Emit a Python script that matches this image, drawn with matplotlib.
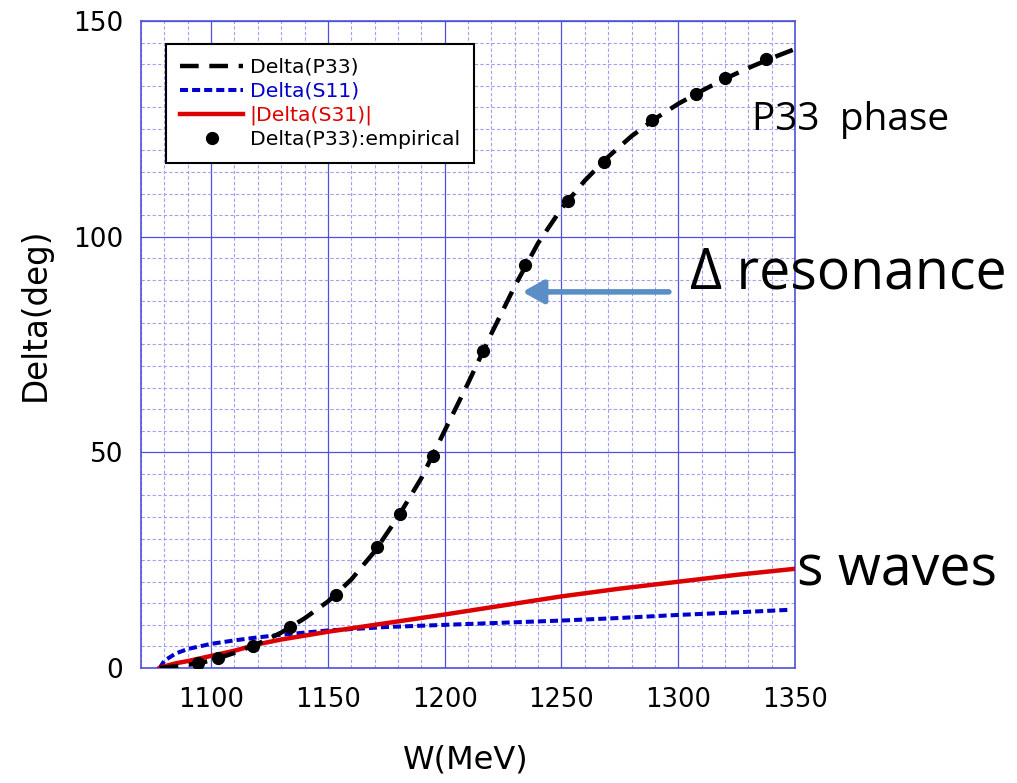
import matplotlib
matplotlib.use("Agg")
import matplotlib.pyplot as plt
from matplotlib.ticker import MultipleLocator

# P33 phase shift curve (deg) vs W (MeV)
w_p33 = [1078, 1090, 1100, 1110, 1120, 1130, 1140, 1150, 1160, 1170, 1180, 1190, 1200,
         1210, 1220, 1230, 1240, 1250, 1260, 1270, 1280, 1290, 1300, 1310, 1320, 1330,
         1340, 1350]
d_p33 = [0, 0.7, 1.7, 3.5, 5.6, 8.2, 11.5, 15.4, 20.5, 27.0, 35.0, 44.0, 55.0,
         66.0, 77.5, 88.5, 98.5, 106.5, 113.0, 118.5, 123.3, 127.3, 130.8, 133.8, 136.6, 139.1,
         141.4, 143.5]

# S11 phase shift
w_s11 = [1078, 1080, 1085, 1090, 1100, 1110, 1120, 1130, 1140, 1150, 1175, 1200, 1225,
         1250, 1275, 1300, 1325, 1348]
d_s11 = [0, 1.7, 3.4, 4.4, 5.6, 6.4, 7.1, 7.7, 8.2, 8.7, 9.5, 10.0, 10.5,
         11.0, 11.6, 12.3, 12.9, 13.5]

# |S31| phase shift
w_s31 = [1078, 1080, 1085, 1090, 1100, 1110, 1120, 1130, 1150, 1175, 1200, 1225, 1250,
         1275, 1300, 1325, 1350]
d_s31 = [0, 0.4, 1.1, 1.6, 2.8, 4.0, 5.5, 6.6, 8.4, 10.4, 12.4, 14.5, 16.6,
         18.4, 20.0, 21.6, 23.0]

# empirical P33 points
w_emp = [1094.6, 1103.1, 1117.9, 1133.9, 1153.6, 1171.0, 1180.7, 1195.0, 1216.6, 1234.3,
         1252.7, 1268.4, 1288.9, 1307.7, 1320.0, 1337.4]
d_emp = [1.1, 2.4, 5.1, 9.4, 17.0, 28.1, 35.6, 49.1, 73.5, 93.4,
         108.3, 117.4, 127.1, 133.0, 136.7, 141.1]

xticks = [1100, 1150, 1200, 1250, 1300, 1350]
yticks = [0, 50, 100, 150]

grid_major = "#5050dd"
grid_minor = "#a0a0f2"

fig = plt.figure(figsize=(10.17, 7.83), dpi=100)
ax = fig.add_axes([141 / 1017, 1 - 668 / 783, 654 / 1017, 647 / 783])

ax.plot(w_p33, d_p33, color="black", lw=3.2, dashes=(4.2, 2.4), label="Delta(P33)", zorder=4)
ax.plot(w_s11, d_s11, color="#0000cc", lw=2.9, dashes=(2.0, 1.0), label="Delta(S11)", zorder=3)
ax.plot(w_s31, d_s31, color="#dd0000", lw=3.2, label="|Delta(S31)|", zorder=3)
ax.plot(w_emp, d_emp, "o", color="black", ms=8.5, label="Delta(P33):empirical", zorder=5)

ax.set_xlim(1070, 1350)
ax.set_ylim(0, 150)
ax.set_xticks(xticks)
ax.set_yticks(yticks)
ax.xaxis.set_minor_locator(MultipleLocator(10))
ax.yaxis.set_minor_locator(MultipleLocator(5))
ax.tick_params(which="both", length=0)
ax.tick_params(axis="x", pad=14, labelsize=18.5)
ax.tick_params(axis="y", pad=13, labelsize=19)

ax.grid(which="major", color=grid_major, lw=0.9, zorder=0)
ax.grid(which="minor", color=grid_minor, lw=0.8, ls=(0, (3, 2)), zorder=0)
ax.set_axisbelow(True)
for s in ax.spines.values():
    s.set_color(grid_major)
    s.set_linewidth(1.2)

ax.set_xlabel("W(MeV)", fontsize=23)
ax.xaxis.set_label_coords(0.497, -0.118)
ax.set_ylabel("Delta(deg)", fontsize=23.5)
ax.yaxis.set_label_coords(-0.137, 0.546)

leg = ax.legend(loc="upper left", bbox_to_anchor=(0.038, 0.965), fontsize=14.7,
                frameon=True, fancybox=False, framealpha=1, edgecolor="black",
                handlelength=3.1, handletextpad=0.3, labelspacing=0.24,
                borderpad=0.7, borderaxespad=0,
                labelcolor=["black", "#0000cc", "#dd0000", "black"])
leg.get_frame().set_linewidth(1.5)

# arrow pointing at the resonance
ax.annotate("", xy=(1233.3, 87.2), xytext=(1296, 87.2),
            arrowprops=dict(arrowstyle="-|>,head_length=0.9,head_width=0.5",
                            color="#5b8ec6", lw=4, mutation_scale=14,
                            shrinkA=0, shrinkB=0),
            annotation_clip=False, zorder=6)

fig.text(752 / 1017, 1 - 130 / 783, "P33  phase", fontsize=28, family="Open Sans",
         va="baseline", ha="left")
fig.text(690 / 1017, 1 - 289 / 783, "\u0394 resonance", fontsize=40, family="Open Sans",
         va="baseline", ha="left")
fig.text(797 / 1017, 1 - 585 / 783, "s waves", fontsize=40, family="Open Sans",
         va="baseline", ha="left")

fig.savefig("out.png", dpi=100)
